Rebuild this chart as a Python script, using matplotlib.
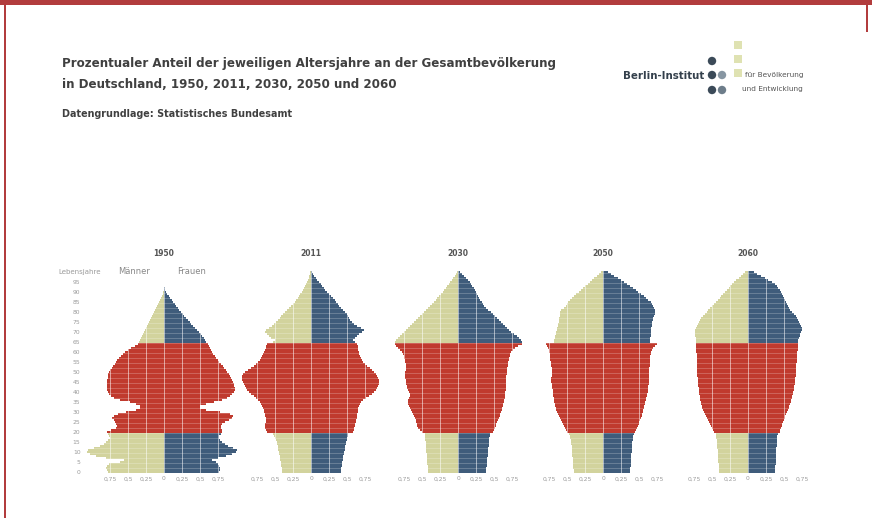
import matplotlib
matplotlib.use("Agg")
import matplotlib.pyplot as plt
import numpy as np
from matplotlib.patches import Rectangle, Circle

# Anteil je Altersjahr an der Gesamtbevoelkerung in Prozent, Alter 0..100
ages = np.arange(0, 101)
jahre = ["1950", "2011", "2030", "2050", "2060"]

maenner_1950 = [0.78, 0.79, 0.81, 0.79, 0.76, 0.61, 0.56, 0.81, 0.94, 1.03,
                1.07, 1.06, 0.97, 0.89, 0.83, 0.81, 0.78, 0.75, 0.76, 0.78,
                0.79, 0.74, 0.67, 0.65, 0.67, 0.68, 0.69, 0.72, 0.69, 0.64,
                0.53, 0.39, 0.33, 0.33, 0.39, 0.47, 0.61, 0.69, 0.74, 0.76,
                0.78, 0.79, 0.79, 0.79, 0.79, 0.79, 0.79, 0.78, 0.78, 0.78,
                0.76, 0.75, 0.72, 0.71, 0.68, 0.67, 0.65, 0.63, 0.60, 0.57,
                0.54, 0.50, 0.46, 0.40, 0.36, 0.35, 0.33, 0.32, 0.31, 0.29,
                0.28, 0.26, 0.25, 0.24, 0.22, 0.21, 0.19, 0.18, 0.17, 0.15,
                0.14, 0.13, 0.11, 0.10, 0.08, 0.07, 0.06, 0.04, 0.03, 0.01,
                0.01, 0, 0, 0, 0, 0, 0, 0, 0, 0, 0]
frauen_1950 = [0.76, 0.78, 0.78, 0.76, 0.75, 0.72, 0.67, 0.75, 0.86, 0.94,
               1.00, 1.01, 0.96, 0.89, 0.85, 0.81, 0.78, 0.76, 0.76, 0.79,
               0.81, 0.81, 0.79, 0.79, 0.81, 0.85, 0.90, 0.94, 0.96, 0.92,
               0.78, 0.58, 0.50, 0.50, 0.58, 0.69, 0.81, 0.88, 0.92, 0.94,
               0.97, 0.99, 0.99, 0.97, 0.97, 0.96, 0.94, 0.93, 0.92, 0.90,
               0.88, 0.86, 0.83, 0.82, 0.79, 0.76, 0.75, 0.72, 0.71, 0.68,
               0.67, 0.65, 0.64, 0.63, 0.61, 0.58, 0.57, 0.56, 0.53, 0.51,
               0.49, 0.46, 0.43, 0.40, 0.38, 0.36, 0.33, 0.31, 0.28, 0.26,
               0.24, 0.21, 0.19, 0.17, 0.15, 0.13, 0.11, 0.08, 0.07, 0.04,
               0.03, 0.01, 0.01, 0, 0, 0, 0, 0, 0, 0, 0]

maenner_2011 = [0.40, 0.40, 0.40, 0.42, 0.42, 0.42, 0.43, 0.43, 0.43, 0.44,
                0.44, 0.46, 0.46, 0.46, 0.47, 0.47, 0.49, 0.50, 0.51, 0.53,
                0.61, 0.63, 0.64, 0.64, 0.64, 0.63, 0.63, 0.63, 0.64, 0.64,
                0.65, 0.65, 0.67, 0.68, 0.69, 0.71, 0.74, 0.76, 0.79, 0.83,
                0.86, 0.89, 0.90, 0.92, 0.93, 0.94, 0.96, 0.96, 0.96, 0.94,
                0.92, 0.88, 0.83, 0.79, 0.76, 0.74, 0.71, 0.69, 0.68, 0.67,
                0.65, 0.64, 0.63, 0.63, 0.61, 0.53, 0.50, 0.56, 0.58, 0.61,
                0.64, 0.63, 0.58, 0.54, 0.51, 0.49, 0.46, 0.43, 0.42, 0.39,
                0.36, 0.33, 0.31, 0.28, 0.25, 0.22, 0.21, 0.18, 0.17, 0.15,
                0.13, 0.11, 0.10, 0.08, 0.07, 0.06, 0.04, 0.03, 0.03, 0.01,
                0.01]
frauen_2011 = [0.42, 0.42, 0.42, 0.43, 0.43, 0.43, 0.44, 0.44, 0.44, 0.46,
               0.46, 0.47, 0.47, 0.47, 0.49, 0.49, 0.50, 0.50, 0.51, 0.51,
               0.58, 0.60, 0.60, 0.61, 0.61, 0.63, 0.63, 0.64, 0.64, 0.64,
               0.65, 0.65, 0.65, 0.67, 0.68, 0.69, 0.72, 0.76, 0.81, 0.85,
               0.88, 0.90, 0.92, 0.93, 0.94, 0.94, 0.94, 0.93, 0.92, 0.90,
               0.88, 0.85, 0.82, 0.78, 0.75, 0.72, 0.71, 0.69, 0.68, 0.67,
               0.67, 0.65, 0.65, 0.65, 0.64, 0.61, 0.58, 0.61, 0.64, 0.67,
               0.71, 0.74, 0.69, 0.64, 0.60, 0.57, 0.54, 0.53, 0.51, 0.50,
               0.47, 0.44, 0.42, 0.39, 0.38, 0.35, 0.33, 0.31, 0.28, 0.25,
               0.22, 0.19, 0.18, 0.15, 0.14, 0.11, 0.08, 0.07, 0.04, 0.03,
               0.01]

maenner_2030 = [0.42, 0.42, 0.42, 0.42, 0.43, 0.43, 0.43, 0.43, 0.43, 0.43,
                0.44, 0.44, 0.44, 0.44, 0.44, 0.44, 0.46, 0.46, 0.46, 0.46,
                0.50, 0.53, 0.56, 0.57, 0.57, 0.58, 0.58, 0.60, 0.61, 0.63,
                0.64, 0.65, 0.67, 0.68, 0.69, 0.69, 0.69, 0.68, 0.67, 0.67,
                0.68, 0.69, 0.71, 0.71, 0.72, 0.72, 0.72, 0.74, 0.74, 0.74,
                0.74, 0.72, 0.72, 0.72, 0.72, 0.74, 0.74, 0.75, 0.75, 0.76,
                0.78, 0.81, 0.83, 0.86, 0.88, 0.88, 0.86, 0.83, 0.81, 0.78,
                0.75, 0.72, 0.69, 0.67, 0.64, 0.61, 0.58, 0.56, 0.53, 0.50,
                0.47, 0.44, 0.42, 0.39, 0.36, 0.33, 0.31, 0.29, 0.26, 0.24,
                0.21, 0.19, 0.17, 0.15, 0.13, 0.11, 0.08, 0.07, 0.04, 0.03,
                0.01]
frauen_2030 = [0.39, 0.39, 0.39, 0.40, 0.40, 0.40, 0.40, 0.40, 0.42, 0.42,
               0.42, 0.42, 0.42, 0.43, 0.43, 0.43, 0.43, 0.43, 0.44, 0.44,
               0.49, 0.50, 0.51, 0.53, 0.53, 0.54, 0.56, 0.57, 0.58, 0.58,
               0.60, 0.61, 0.61, 0.63, 0.63, 0.64, 0.64, 0.65, 0.65, 0.65,
               0.65, 0.67, 0.67, 0.67, 0.67, 0.67, 0.67, 0.67, 0.67, 0.68,
               0.68, 0.68, 0.68, 0.69, 0.69, 0.69, 0.71, 0.71, 0.72, 0.72,
               0.74, 0.76, 0.79, 0.83, 0.89, 0.89, 0.88, 0.85, 0.82, 0.78,
               0.74, 0.71, 0.68, 0.65, 0.63, 0.60, 0.57, 0.54, 0.51, 0.49,
               0.46, 0.42, 0.39, 0.36, 0.35, 0.33, 0.31, 0.29, 0.28, 0.26,
               0.25, 0.24, 0.22, 0.19, 0.18, 0.17, 0.14, 0.11, 0.08, 0.06,
               0.03]

maenner_2050 = [0.40, 0.40, 0.42, 0.42, 0.42, 0.42, 0.42, 0.42, 0.43, 0.43,
                0.43, 0.43, 0.43, 0.43, 0.44, 0.44, 0.44, 0.46, 0.46, 0.47,
                0.50, 0.51, 0.53, 0.54, 0.56, 0.57, 0.58, 0.60, 0.61, 0.63,
                0.64, 0.65, 0.65, 0.67, 0.67, 0.68, 0.68, 0.68, 0.69, 0.69,
                0.69, 0.69, 0.71, 0.71, 0.71, 0.72, 0.72, 0.72, 0.71, 0.71,
                0.71, 0.71, 0.71, 0.72, 0.72, 0.72, 0.74, 0.74, 0.74, 0.74,
                0.75, 0.75, 0.76, 0.78, 0.79, 0.68, 0.68, 0.67, 0.67, 0.65,
                0.65, 0.64, 0.64, 0.63, 0.63, 0.61, 0.61, 0.61, 0.60, 0.60,
                0.60, 0.58, 0.54, 0.51, 0.50, 0.49, 0.46, 0.43, 0.40, 0.38,
                0.33, 0.31, 0.28, 0.25, 0.21, 0.18, 0.15, 0.13, 0.08, 0.06,
                0.03]
frauen_2050 = [0.38, 0.38, 0.38, 0.39, 0.39, 0.39, 0.39, 0.39, 0.39, 0.39,
               0.40, 0.40, 0.40, 0.40, 0.40, 0.40, 0.42, 0.42, 0.42, 0.43,
               0.44, 0.46, 0.47, 0.49, 0.50, 0.50, 0.51, 0.53, 0.54, 0.54,
               0.56, 0.56, 0.57, 0.57, 0.58, 0.58, 0.60, 0.60, 0.61, 0.61,
               0.63, 0.63, 0.63, 0.63, 0.64, 0.64, 0.64, 0.64, 0.64, 0.64,
               0.64, 0.64, 0.64, 0.65, 0.65, 0.65, 0.65, 0.65, 0.65, 0.67,
               0.67, 0.68, 0.69, 0.72, 0.75, 0.65, 0.65, 0.65, 0.67, 0.67,
               0.67, 0.67, 0.67, 0.68, 0.68, 0.68, 0.69, 0.69, 0.71, 0.72,
               0.72, 0.72, 0.71, 0.69, 0.68, 0.67, 0.63, 0.60, 0.57, 0.53,
               0.49, 0.46, 0.42, 0.38, 0.33, 0.29, 0.25, 0.21, 0.15, 0.11,
               0.07]

maenner_2060 = [0.40, 0.40, 0.40, 0.40, 0.40, 0.42, 0.42, 0.42, 0.42, 0.42,
                0.42, 0.42, 0.43, 0.43, 0.43, 0.43, 0.43, 0.44, 0.44, 0.44,
                0.47, 0.49, 0.50, 0.51, 0.53, 0.54, 0.56, 0.57, 0.58, 0.60,
                0.61, 0.63, 0.64, 0.64, 0.65, 0.65, 0.67, 0.67, 0.67, 0.68,
                0.68, 0.68, 0.68, 0.69, 0.69, 0.69, 0.69, 0.69, 0.71, 0.71,
                0.71, 0.71, 0.71, 0.71, 0.71, 0.71, 0.71, 0.71, 0.71, 0.71,
                0.72, 0.72, 0.72, 0.72, 0.72, 0.72, 0.72, 0.72, 0.74, 0.74,
                0.74, 0.74, 0.72, 0.71, 0.69, 0.68, 0.67, 0.65, 0.63, 0.60,
                0.57, 0.56, 0.53, 0.50, 0.47, 0.44, 0.42, 0.39, 0.38, 0.35,
                0.32, 0.29, 0.26, 0.25, 0.22, 0.19, 0.17, 0.13, 0.10, 0.07,
                0.04]
frauen_2060 = [0.38, 0.38, 0.38, 0.38, 0.39, 0.39, 0.39, 0.39, 0.39, 0.39,
               0.39, 0.39, 0.39, 0.40, 0.40, 0.40, 0.40, 0.40, 0.40, 0.42,
               0.44, 0.44, 0.46, 0.47, 0.47, 0.49, 0.50, 0.51, 0.51, 0.53,
               0.54, 0.56, 0.57, 0.57, 0.58, 0.60, 0.60, 0.61, 0.61, 0.63,
               0.63, 0.64, 0.64, 0.64, 0.65, 0.65, 0.65, 0.65, 0.67, 0.67,
               0.67, 0.67, 0.67, 0.67, 0.67, 0.68, 0.68, 0.68, 0.68, 0.68,
               0.68, 0.69, 0.69, 0.69, 0.69, 0.69, 0.69, 0.71, 0.72, 0.72,
               0.74, 0.75, 0.75, 0.74, 0.72, 0.71, 0.69, 0.68, 0.67, 0.64,
               0.61, 0.58, 0.57, 0.56, 0.54, 0.53, 0.51, 0.50, 0.49, 0.47,
               0.46, 0.44, 0.42, 0.40, 0.38, 0.33, 0.28, 0.24, 0.18, 0.13,
               0.08]

maenner = [maenner_1950, maenner_2011, maenner_2030, maenner_2050, maenner_2060]
frauen = [frauen_1950, frauen_2011, frauen_2030, frauen_2050, frauen_2060]

xticks = [-0.75, -0.5, -0.25, 0, 0.25, 0.5, 0.75]
xlabels = ["0,75", "0,5", "0,25", "0", "0,25", "0,5", "0,75"]
yticks = list(range(0, 100, 5))

khaki = "#d2d39d"
blau = "#3f5c7b"
rot = "#c03a2e"
grau = "#9a9a9a"
titel_fonts = ["Liberation Sans Narrow", "DejaVu Sans"]

W, H = 872, 518
fig = plt.figure(figsize=(W / 100, H / 100), dpi=100)
fig.patch.set_facecolor("white")
renderer = fig.canvas.get_renderer()


def fit(txt, width_px):
    bb = txt.get_window_extent(renderer)
    txt.set_fontsize(txt.get_fontsize() * width_px / bb.width)
    return txt.get_fontsize()


# overlay in pixel coords for frame and logo
deko = fig.add_axes([0, 0, 1, 1])
deko.set_xlim(0, W)
deko.set_ylim(H, 0)
deko.axis("off")
rahmen = "#b23c3d"
deko.add_patch(Rectangle((0, 0), W, 4.5, color=rahmen, lw=0))
deko.add_patch(Rectangle((4, 0), 2.2, H, color=rahmen, lw=0))
deko.add_patch(Rectangle((865.5, 0), 2, 32, color=rahmen, lw=0))

# logo
for (x, y, c) in [(712, 61, "#3b4a58"), (712, 75, "#3b4a58"), (712, 90, "#3b4a58"),
                  (722, 75, "#8796a2"), (722, 90, "#6d7d8a")]:
    deko.add_patch(Circle((x, y), 4.2, color=c, lw=0))
for y in [45, 59, 73]:
    deko.add_patch(Rectangle((733.5, y - 4), 8, 8, color="#dfe2b2", lw=0))
t = fig.text(623 / W, 1 - 76 / H, "Berlin-Institut", fontsize=7, weight="bold",
             color="#34404c", family=titel_fonts, va="center")
fit(t, 82)
fig.text(745 / W, 1 - 75 / H, "für Bevölkerung", fontsize=5.3, color="#555555",
         va="center", family=titel_fonts)
fig.text(742 / W, 1 - 89 / H, "und Entwicklung", fontsize=5.3, color="#555555",
         va="center", family=titel_fonts)

# titles
t1 = fig.text(62 / W, 1 - 64 / H,
              "Prozentualer Anteil der jeweiligen Altersjahre an der Gesamtbevölkerung",
              fontsize=10, weight="bold", color="#404040", family=titel_fonts, va="center")
fs = fit(t1, 493)
fig.text(62 / W, 1 - 85 / H, "in Deutschland, 1950, 2011, 2030, 2050 und 2060",
         fontsize=fs, weight="bold", color="#404040", family=titel_fonts, va="center")
t3 = fig.text(62 / W, 1 - 114 / H, "Datengrundlage: Statistisches Bundesamt",
              fontsize=8, weight="bold", color="#404040", family=titel_fonts, va="center")
fit(t3, 230)

# legend row
fig.text(58 / W, 1 - 272 / H, "Lebensjahre", fontsize=5, color=grau, va="center")
fig.text(134 / W, 1 - 272 / H, "Männer", fontsize=6, color="#888888", va="center", ha="center")
fig.text(192 / W, 1 - 272 / H, "Frauen", fontsize=6, color="#888888", va="center", ha="center")

mitten = [164, 311, 458, 603, 748]
unten, oben = 473, 271
mitte_alter = (ages >= 20) & (ages < 65)

for i, jahr in enumerate(jahre):
    c = mitten[i]
    ax = fig.add_axes([(c - 80) / W, (H - unten) / H, 160 / W, (unten - oben) / H])
    ax.patch.set_visible(False)
    m = np.array(maenner[i])
    f = np.array(frauen[i])
    ax.barh(ages, -m, height=1.0, color=list(np.where(mitte_alter, rot, khaki)), linewidth=0)
    ax.barh(ages, f, height=1.0, color=list(np.where(mitte_alter, rot, blau)), linewidth=0)
    for x in xticks:
        ax.axvline(x, color="white", lw=0.7, alpha=0.55, zorder=3)
    for y in np.arange(2, 100, 2.5):
        ax.axhline(y, color="white", lw=0.5, alpha=0.3, zorder=3)
    ax.set_xlim(-80 / 72, 80 / 72)
    ax.set_ylim(-0.5, 100.5)
    ax.set_xticks(xticks)
    ax.set_xticklabels(xlabels, fontsize=4.3, color=grau)
    ax.tick_params(length=0, pad=2.5)
    for s in ax.spines.values():
        s.set_visible(False)
    if i == 0:
        ax.set_yticks(yticks)
        ax.set_yticklabels([str(v) for v in yticks], fontsize=4.3, color=grau)
    else:
        ax.set_yticks([])
    fig.text(c / W, 1 - 254 / H, jahr, fontsize=5.5, weight="bold", color="#555555",
             ha="center", va="center")

fig.savefig("out.png", dpi=100, facecolor="white")
